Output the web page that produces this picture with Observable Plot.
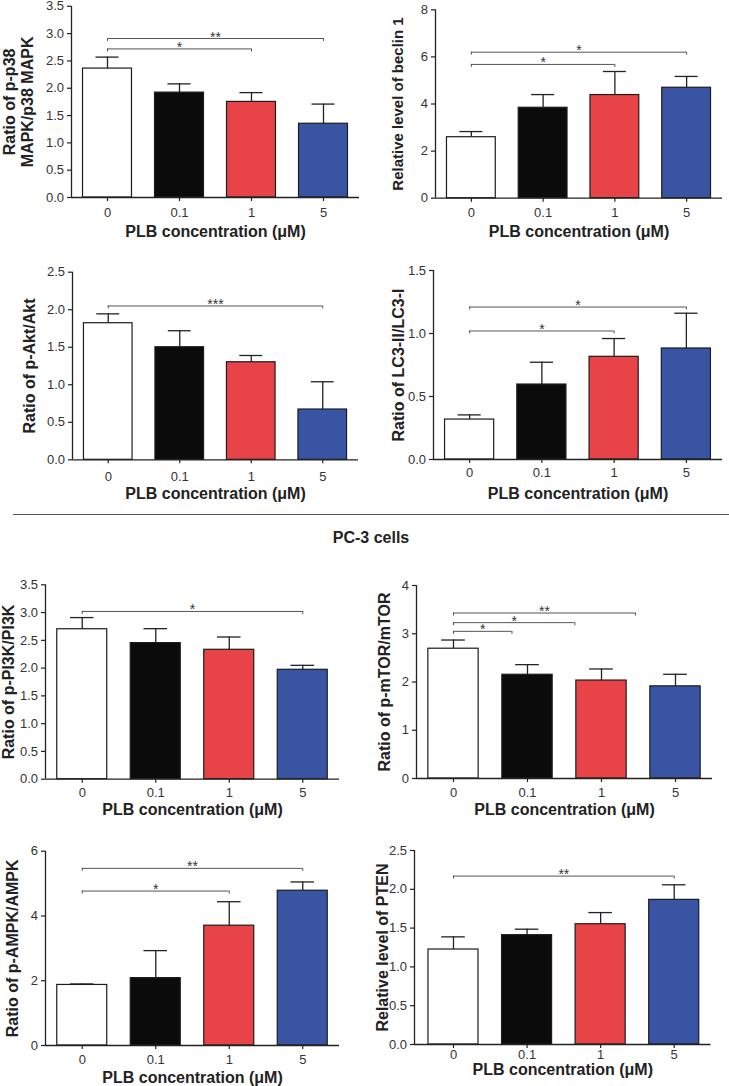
<!DOCTYPE html>
<html>
<head>
<meta charset="utf-8">
<script src="https://cdn.jsdelivr.net/npm/d3@7"></script>
<script src="https://cdn.jsdelivr.net/npm/@observablehq/plot@0.6"></script>
<style>
  body { margin: 0; background: #fff; }
  #root { position: relative; width: 729px; height: 1086px; font-family: "Liberation Sans", Arial, sans-serif; overflow: hidden; }
  .panel { position: absolute; }
  #divider { position: absolute; left: 13px; top: 514px; width: 716px; height: 0; border-top: 1.4px solid #555; }
  #cells { position: absolute; left: 0; width: 742px; top: 529px; text-align: center; font-weight: bold; font-size: 16px; color: #222; }
</style>
</head>
<body>
<div id="root">
  <div id="divider"></div>
  <div id="cells">PC-3 cells</div>
</div>
<script>
// ---- data ----
const concentrations = ["0", "0.1", "1", "5"];
const barColors = ["#ffffff", "#0b0b0b", "#e84448", "#3a54a4"];

const mapkMean = [2.36, 1.92, 1.75, 1.35];
const mapkErr = [0.21, 0.16, 0.17, 0.36];
const mapkSig = [{x1: 0, x2: 3, y: 2.91, label: "**"}, {x1: 0, x2: 2, y: 2.72, label: "*"}];

const beclinMean = [2.59, 3.84, 4.38, 4.69];
const beclinErr = [0.24, 0.56, 1.0, 0.48];
const beclinSig = [{x1: 0, x2: 3, y: 6.2, label: "*"}, {x1: 0, x2: 2, y: 5.68, label: "*"}];

const aktMean = [1.82, 1.50, 1.30, 0.67];
const aktErr = [0.125, 0.22, 0.09, 0.37];
const aktSig = [{x1: 0, x2: 3, y: 2.05, label: "***"}];

const lc3Mean = [0.317, 0.595, 0.815, 0.881];
const lc3Err = [0.037, 0.177, 0.145, 0.28];
const lc3Sig = [{x1: 0, x2: 3, y: 1.21, label: "*"}, {x1: 0, x2: 2, y: 1.02, label: "*"}];

const pi3kMean = [2.70, 2.45, 2.33, 1.97];
const pi3kErr = [0.21, 0.26, 0.23, 0.08];
const pi3kSig = [{x1: 0, x2: 3, y: 3.02, label: "*"}];

const mtorMean = [2.69, 2.15, 2.03, 1.91];
const mtorErr = [0.18, 0.21, 0.24, 0.25];
const mtorSig = [{x1: 0, x2: 2.46, y: 3.43, label: "**"}, {x1: 0, x2: 1.64, y: 3.23, label: "*"}, {x1: 0, x2: 0.79, y: 3.05, label: "*"}];

const ampkMean = [1.87, 2.08, 3.70, 4.78];
const ampkErr = [0.03, 0.85, 0.74, 0.27];
const ampkSig = [{x1: 0, x2: 3, y: 5.47, label: "**"}, {x1: 0, x2: 2, y: 4.77, label: "*"}];

const ptenMean = [1.224, 1.409, 1.55, 1.864];
const ptenErr = [0.163, 0.077, 0.15, 0.194];
const ptenSig = [{x1: 0, x2: 3, y: 2.17, label: "**"}];

const xTitle = "PLB concentration (μM)";

// ---- panels ----
const panels = [
  {mean: mapkMean, err: mapkErr, sig: mapkSig, title: "Ratio of p-p38\nMAPK/p38 MAPK", yMax: 3.5, yStep: 0.5, fmt: ".1f",
   left: 0, top: 0, width: 364, height: 245, mL: 71, mR: 5, mT: 5.8, mB: 48, yTitleX: 18, xTitleY: 231, tickPad: 6},
  {mean: beclinMean, err: beclinErr, sig: beclinSig, title: "Relative level of beclin 1", yMax: 8, yStep: 2, fmt: "d", titleSize: 15,
   left: 364, top: 0, width: 365, height: 245, mL: 71, mR: 7, mT: 9.3, mB: 47.3, yTitleX: 33, xTitleY: 231, tickPad: 5.5},
  {mean: aktMean, err: aktErr, sig: aktSig, title: "Ratio of p-Akt/Akt", yMax: 2.5, yStep: 0.5, fmt: ".1f",
   left: 0, top: 250, width: 364, height: 260, mL: 72, mR: 6, mT: 21.7, mB: 50.7, yTitleX: 28.5, xTitleY: 243.5, tickPad: 7.5},
  {mean: lc3Mean, err: lc3Err, sig: lc3Sig, title: "Ratio of LC3-II/LC3-I", yMax: 1.5, yStep: 0.5, fmt: ".1f",
   left: 364, top: 250, width: 365, height: 260, mL: 69, mR: 7, mT: 20, mB: 51, yTitleX: 33.5, xTitleY: 243.7, tickPad: 4.5},
  {mean: pi3kMean, err: pi3kErr, sig: pi3kSig, title: "Ratio of p-PI3K/PI3K", yMax: 3.5, yStep: 0.5, fmt: ".1f",
   left: 0, top: 560, width: 364, height: 260, mL: 45, mR: 25, mT: 24.3, mB: 41.3, yTitleX: 8, xTitleY: 249, tickPad: 4.5},
  {mean: mtorMean, err: mtorErr, sig: mtorSig, title: "Ratio of p-mTOR/mTOR", yMax: 4, yStep: 1, fmt: "d",
   left: 364, top: 560, width: 365, height: 260, mL: 52, mR: 17, mT: 25, mB: 42, yTitleX: 20, xTitleY: 249, tickPad: 5.5},
  {mean: ampkMean, err: ampkErr, sig: ampkSig, title: "Ratio of p-AMPK/AMPK", yMax: 6, yStep: 2, fmt: "d",
   left: 0, top: 820, width: 364, height: 266, mL: 45, mR: 25, mT: 30.7, mB: 41, yTitleX: 11.5, xTitleY: 257.5, tickPad: 5},
  {mean: ptenMean, err: ptenErr, sig: ptenSig, title: "Relative level of PTEN", yMax: 2.5, yStep: 0.5, fmt: ".1f",
   left: 364, top: 820, width: 365, height: 266, mL: 50, mR: 18.5, xLo: -0.53, mT: 30, mB: 42, yTitleX: 18, xTitleY: 249, tickPad: 1}
];

const font = "'Liberation Sans', Arial, sans-serif";

function makePanel(p) {
  const xLo = p.xLo ?? -0.5;
  const data = concentrations.map((c, i) => ({i, c, mean: p.mean[i], top: p.mean[i] + p.err[i], color: barColors[i]}));
  const plotH = p.height - p.mT - p.mB;
  const tl = 3 * p.yMax / plotH; // bracket end-tick length (≈3px)
  const ends = p.sig.flatMap(b => [{x: b.x1, y: b.y}, {x: b.x2, y: b.y}]);
  const yTicks = d3.range(0, p.yMax + 1e-9, p.yStep);
  const fmt = d3.format(p.fmt);
  const chart = Plot.plot({
    width: p.width, height: p.height,
    marginLeft: p.mL, marginRight: p.mR, marginTop: p.mT, marginBottom: p.mB,
    style: {fontFamily: font, fontSize: "13px", color: "#333", background: "transparent", overflow: "visible"},
    x: {type: "linear", domain: [xLo, 3.5], axis: null},
    y: {domain: [0, p.yMax], axis: null},
    color: {type: "identity"},
    marks: [
      Plot.axisY({ticks: yTicks, tickFormat: fmt, tickSize: 4, tickPadding: 3.5, label: null, stroke: "#222", strokeWidth: 1.2}),
      Plot.axisX({ticks: [0, 1, 2, 3], tickFormat: i => concentrations[i], tickSize: 4, tickPadding: p.tickPad, label: null, stroke: "#222", strokeWidth: 1.2}),
      // error bars (upper only)
      Plot.ruleX(data, {x: "i", y1: "mean", y2: "top", stroke: "#222", strokeWidth: 1.3}),
      Plot.ruleY(data, {y: "top", x1: d => d.i - 0.16, x2: d => d.i + 0.16, stroke: "#222", strokeWidth: 1.3}),
      // bars
      Plot.rectY(data, {x1: d => d.i - 0.34, x2: d => d.i + 0.34, y1: 0, y2: "mean", fill: "color", stroke: "#1c1c1c", strokeWidth: 1.2}),
      // axes lines
      Plot.ruleX([xLo], {stroke: "#222", strokeWidth: 1.3}),
      Plot.ruleY([0], {stroke: "#222", strokeWidth: 1.3}),
      // significance brackets
      Plot.ruleY(p.sig, {y: "y", x1: "x1", x2: "x2", stroke: "#555", strokeWidth: 1}),
      Plot.ruleX(ends, {x: "x", y1: "y", y2: d => d.y - tl, stroke: "#555", strokeWidth: 1}),
      Plot.text(p.sig, {x: d => (d.x1 + d.x2) / 2, y: "y", text: "label", fontSize: 14, lineAnchor: "bottom", dy: 3, fill: "#333"}),
      // axis titles
      Plot.text([p.title], {text: d => d, frameAnchor: "left", textAnchor: "middle", rotate: -90, dx: p.yTitleX - p.mL, fontSize: p.titleSize ?? 16,
        fontWeight: "bold", fill: "#222", lineAnchor: "middle", lineHeight: 1.125}),
      Plot.text([xTitle], {text: d => d, frameAnchor: "bottom", textAnchor: "middle", dy: p.xTitleY - (p.height - p.mB), fontSize: 16,
        fontWeight: "bold", fill: "#222", lineAnchor: "middle"})
    ]
  });
  chart.classList.add("panel");
  chart.style.left = p.left + "px";
  chart.style.top = p.top + "px";
  return chart;
}

const root = document.getElementById("root");
for (const p of panels) root.appendChild(makePanel(p));
</script>
</body>
</html>
